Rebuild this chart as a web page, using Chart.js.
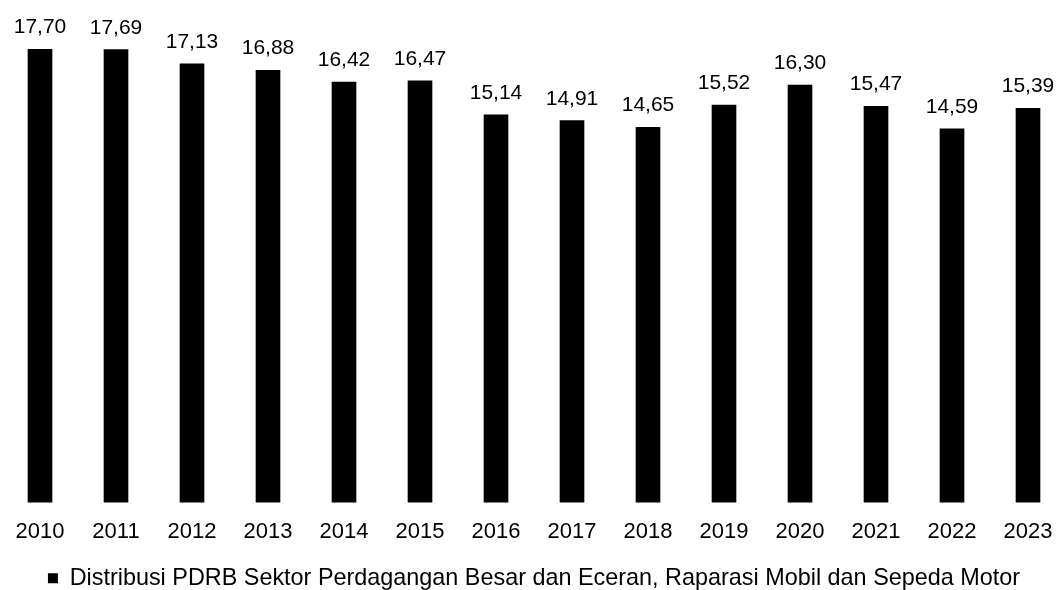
<!DOCTYPE html>
<html>
<head>
<meta charset="utf-8">
<script src="https://cdn.jsdelivr.net/npm/chart.js@4.4.1/dist/chart.umd.min.js"></script>
<style>
    body { margin: 0; background: #fff; }
    #wrap { width: 1057px; height: 590px; }
</style>
</head>
<body>
<div id="wrap"><canvas id="myChart"></canvas></div>
<script>
/*               data                */

const years = ['2010', '2011', '2012', '2013', '2014', '2015', '2016',
    '2017', '2018', '2019', '2020', '2021', '2022', '2023'];
const shares = [17.70, 17.69, 17.13, 16.88, 16.42, 16.47, 15.14,
    14.91, 14.65, 15.52, 16.30, 15.47, 14.59, 15.39];
const seriesName = 'Distribusi PDRB Sektor Perdagangan Besar dan Eceran, Raparasi Mobil dan Sepeda Motor';

const FONT = '"Liberation Sans", Arial, sans-serif';

/*               value labels above bars                */

const valueLabels = {
    id: 'valueLabels',
    afterDatasetsDraw(chart) {
        let ctx = chart.ctx;
        let meta = chart.getDatasetMeta(0);
        ctx.save();
        ctx.font = '21px ' + FONT;
        ctx.fillStyle = '#000';
        ctx.textAlign = 'center';
        ctx.textBaseline = 'alphabetic';
        meta.data.forEach(function (bar, i) {
            let txt = shares[i].toFixed(2).replace('.', ',');
            ctx.fillText(txt, bar.x, bar.y - 16);
        });
        ctx.restore();
    }
};

/*               chart                */

let ctx = document.getElementById('myChart').getContext('2d');
let chart = new Chart(ctx, {
    type: 'bar',
    data: {
        labels: years,
        datasets: [{
            label: seriesName,
            data: shares,
            backgroundColor: '#000',
            borderWidth: 0,
            barThickness: 24,
            clip: false
        }]
    },
    options: {
        responsive: true,
        maintainAspectRatio: false,
        animation: false,
        layout: {
            padding: { top: 16, left: 40, right: 29, bottom: -10 }
        },
        scales: {
            x: {
                offset: false,
                grid: { display: false, offset: false, drawTicks: true, tickLength: 14 },
                border: { display: false },
                ticks: {
                    color: '#000',
                    padding: 3,
                    maxRotation: 0,
                    autoSkip: false,
                    font: { family: FONT, size: 22 }
                },
                afterFit: function (scale) {
                    scale.height += 18;
                }
            },
            y: {
                display: false,
                min: 0,
                max: 19
            }
        },
        plugins: {
            legend: {
                position: 'bottom',
                labels: {
                    color: '#000',
                    boxWidth: 10,
                    boxHeight: 10,
                    padding: 0,
                    font: { family: FONT, size: 23.4 }
                }
            },
            tooltip: { enabled: false }
        }
    },
    plugins: [valueLabels]
});
</script>
</body>
</html>
